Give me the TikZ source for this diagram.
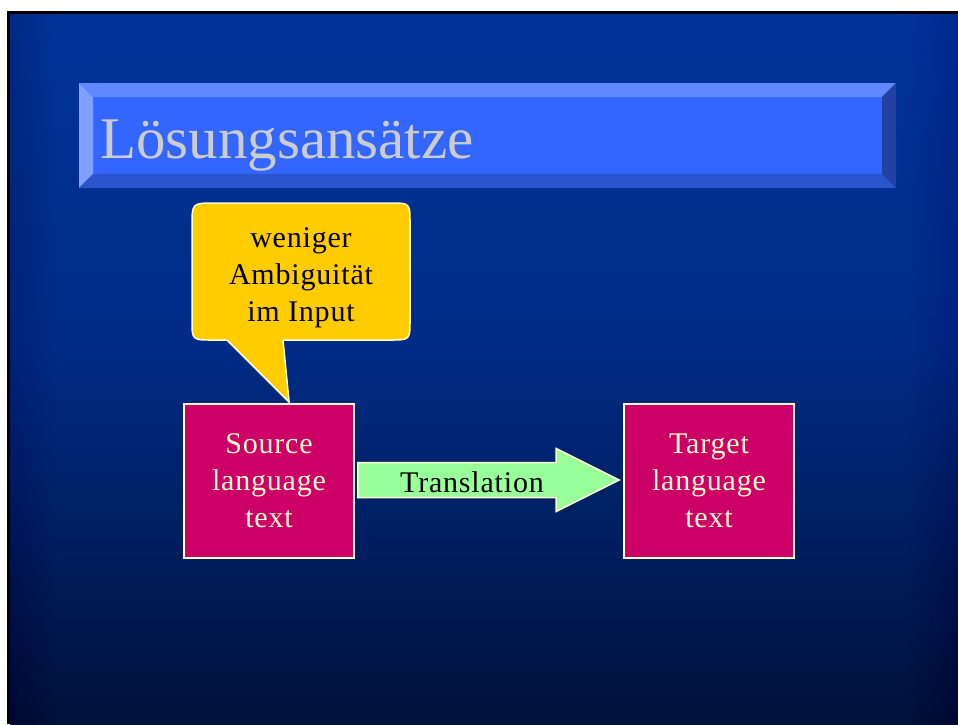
\documentclass[tikz,border=0pt]{standalone}
\usepackage{fontspec}
\setmainfont{Liberation Serif}
\usetikzlibrary{calc}

% slide palette
\definecolor{bgtop}{RGB}{0,51,153}
\definecolor{bgmid}{RGB}{0,44,135}
\definecolor{bgbot}{RGB}{0,17,58}
\definecolor{titleface}{RGB}{51,102,255}
\definecolor{titletop}{RGB}{96,136,255}
\definecolor{titleleft}{RGB}{128,159,255}
\definecolor{titlebottom}{RGB}{43,85,204}
\definecolor{titleright}{RGB}{36,65,160}
\definecolor{titletext}{RGB}{204,204,204}
\definecolor{bubblefill}{RGB}{255,204,0}
\definecolor{paleedge}{RGB}{255,255,204}
\definecolor{boxfill}{RGB}{204,0,102}
\definecolor{arrowfill}{RGB}{153,255,153}

% vertical background shading: path spans 25bp (bottom) to 75bp (top)
\pgfdeclareverticalshading{slidebg}{100bp}{%
  color(0bp)=(bgbot); color(25bp)=(bgbot); color(52bp)=(bgmid);
  color(75bp)=(bgtop); color(100bp)=(bgtop)}

\begin{document}
\begin{tikzpicture}[x=1pt,y=-1pt,
  bodytext/.style={font=\fontsize{30}{37}\selectfont\addfontfeature{LetterSpace=2.7},
    align=center, inner sep=0pt},
  langbox/.style={draw=paleedge, line width=1.8pt, fill=boxfill,
    minimum width=170pt, minimum height=154pt, inner sep=0pt,
    text=paleedge, bodytext},
  bubble/.style={draw=paleedge, line width=1.5pt, fill=bubblefill},
  blockarrow/.style={draw=paleedge, line width=1.5pt, fill=arrowfill, line join=miter}]

\useasboundingbox (0,0) rectangle (958,724);
\fill[white] (0,0) rectangle (958,724);

% slide with its dark frame edge
\fill[black] (7,11) rectangle (958,724);
\shade[shading=slidebg] (10,14) rectangle (958,724);
\foreach \i in {1,...,10}
  \fill[black, opacity=0.008] (10,14) rectangle ({10+4.5*\i},724);
\foreach \i in {1,...,10}
  \fill[black, opacity=0.005] ({958-5*\i},14) rectangle (958,724);

% bevelled title bar
\fill[titleface] (93,97) rectangle (882,174);
\fill[titletop] (79,83) -- (896,83) -- (882,97) -- (93,97) -- cycle;
\fill[titleleft] (79,83) -- (93,97) -- (93,174) -- (79,188) -- cycle;
\fill[titlebottom] (79,188) -- (93,174) -- (882,174) -- (896,188) -- cycle;
\fill[titleright] (896,83) -- (896,188) -- (882,174) -- (882,97) -- cycle;
\node[anchor=base west, inner sep=0pt, text=titletext,
      font=\fontsize{59}{70}\selectfont] (title) at (100,158) {Lösungsansätze};

% language boxes
\node[langbox] (src) at (269,481) {Source\\language\\text};
\node[langbox] (tgt) at (709,481) {Target\\language\\text};

% speech bubble pointing at the source box
\coordinate (bubbletip) at ($(src.north west)+(106,-1)$);
\draw[bubble] (bubbletip) -- (227,340) -- (212,340)
  .. controls (192,340) .. (192,320) -- (192,226)
  .. controls (192,203) .. (215,203) -- (390,203)
  .. controls (410,203) .. (410,223) -- (410,320)
  .. controls (410,340) .. (390,340) -- (283,340) -- cycle;
% base anchor of a multi-line node sits on its last line
\node[bodytext, anchor=base] (bubbletext) at (301,321) {weniger\\Ambiguität\\im Input};

% translation block arrow between the boxes
\coordinate (tail) at ($(src.east)+(3,-1)$);
\coordinate (tip) at ($(tgt.west)+(-4,-1)$);
\draw[blockarrow] ($(tail)+(0,-17.5)$) -- ($(tip)+(-63,-17.5)$)
  -- ($(tip)+(-63,-31.5)$) -- (tip) -- ($(tip)+(-63,31.5)$)
  -- ($(tip)+(-63,17.5)$) -- ($(tail)+(0,17.5)$) -- cycle;
\node[bodytext, anchor=base] (trans) at (472,492) {Translation};

\end{tikzpicture}
\end{document}
